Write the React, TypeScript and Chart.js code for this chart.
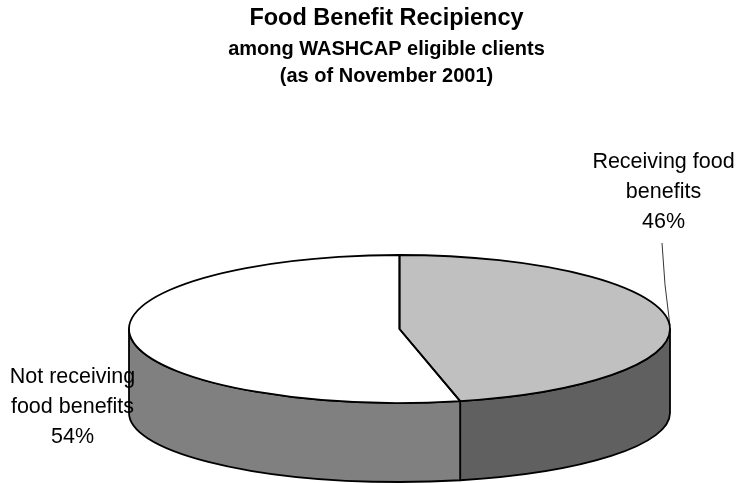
import React, { useEffect, useRef } from "react";
import { Chart, registerables } from "chart.js";

Chart.register(...registerables);

const categories = ["Receiving food benefits", "Not receiving food benefits"];
const shares = [46.4, 53.6];
const titleLines = "Food Benefit Recipiency";
const subtitleLines = ["among WASHCAP eligible clients", "(as of November 2001)"];
const labelLines = [
  ["Receiving food", "benefits"],
  ["Not receiving", "food benefits"],
];
const topColors = ["#c0c0c0", "#ffffff"];
const wallColors = ["#606060", "#808080"];

const FONT = '"Liberation Sans", Arial, sans-serif';
const CX = 399.5;
const CY = 329;
const RX = 270.5;
const RY = 74;
const BOTTOM_OFFSET = 84;
const BOTTOM_RY = 69;
const LINE = 1.8;
const labelAnchors = [
  { x: 663.5, y: 162 },
  { x: 72.5, y: 377 },
];

const pie3d = {
  id: "pie3d",
  beforeDatasetsDraw(chart: any) {
    const ctx = chart.ctx;
    const arcs = chart.getDatasetMeta(0).data;
    ctx.save();
    ctx.lineWidth = LINE;
    ctx.strokeStyle = "#000";
    ctx.lineJoin = "round";
    arcs.forEach((arc: any, i: number) => {
      const a0 = Math.max(arc.startAngle, 0);
      const a1 = Math.min(arc.endAngle, Math.PI);
      if (a1 <= a0) return;
      ctx.beginPath();
      ctx.ellipse(CX, CY, RX, RY, 0, a0, a1);
      ctx.ellipse(CX, CY + BOTTOM_OFFSET, RX, BOTTOM_RY, 0, a1, a0, true);
      ctx.closePath();
      ctx.fillStyle = wallColors[i];
      ctx.fill();
      ctx.stroke();
    });
    ctx.restore();
    const first = arcs[0];
    const k = first.outerRadius;
    ctx.save();
    ctx.translate(CX, CY);
    ctx.scale(RX / k, RY / k);
    ctx.translate(-first.x, -first.y);
  },
  afterDatasetsDraw(chart: any) {
    const ctx = chart.ctx;
    ctx.restore();
    const arcs = chart.getDatasetMeta(0).data;
    ctx.save();
    ctx.lineWidth = LINE;
    ctx.strokeStyle = "#000";
    ctx.lineJoin = "round";
    arcs.forEach((arc: any) => {
      ctx.beginPath();
      ctx.moveTo(CX, CY);
      ctx.ellipse(CX, CY, RX, RY, 0, arc.startAngle, arc.endAngle);
      ctx.closePath();
      ctx.stroke();
    });
    ctx.restore();
  },
  afterDraw(chart: any) {
    const ctx = chart.ctx;
    ctx.save();
    ctx.strokeStyle = "#000";
    ctx.lineWidth = 0.8;
    ctx.beginPath();
    ctx.moveTo(662, 243);
    ctx.quadraticCurveTo(664, 285, 670, 326);
    ctx.stroke();
    ctx.fillStyle = "#000";
    ctx.font = `21.5px ${FONT}`;
    ctx.textAlign = "center";
    ctx.textBaseline = "middle";
    labelLines.forEach((lines, i) => {
      const all = [...lines, `${Math.round(shares[i])}%`];
      all.forEach((t, j) => ctx.fillText(t, labelAnchors[i].x, labelAnchors[i].y + j * 30));
    });
    ctx.restore();
  },
};

export default function App() {
  const ref = useRef<HTMLCanvasElement>(null);
  useEffect(() => {
    const chart = new Chart(ref.current!, {
      type: "pie",
      data: {
        labels: categories,
        datasets: [{ data: shares, backgroundColor: topColors, borderWidth: 0 }],
      },
      options: {
        animation: false,
        responsive: false,
        layout: { padding: { left: 37, top: 0 } },
        plugins: {
          legend: { display: false },
          tooltip: { enabled: false },
          title: {
            display: true,
            text: titleLines,
            color: "#000",
            font: { family: FONT, size: 23.5, weight: "bold" },
            padding: { top: 4, bottom: 2 },
          },
          subtitle: {
            display: true,
            text: subtitleLines,
            color: "#000",
            font: { family: FONT, size: 20, weight: "bold", lineHeight: 1.35 },
            padding: { top: 2, bottom: 0 },
          },
        },
      },
      plugins: [pie3d],
    } as any);
    return () => chart.destroy();
  }, []);
  return (
    <canvas
      ref={ref}
      width={736}
      height={483}
      style={{ position: "fixed", left: 0, top: 0, width: 736, height: 483, background: "#fff" }}
    />
  );
}
